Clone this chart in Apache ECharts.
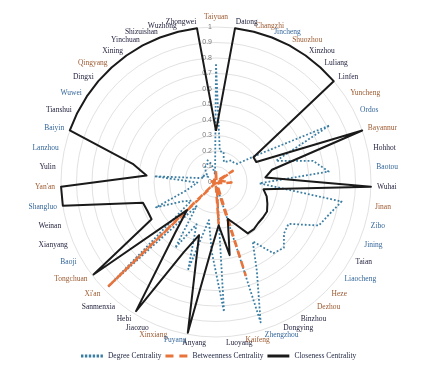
<!DOCTYPE html>
<html><head><meta charset="utf-8">
<script src="https://cdn.jsdelivr.net/npm/echarts@6/dist/echarts.min.js"></script>
<style>html,body{margin:0;padding:0;background:#fff}#c{width:428px;height:367px}</style>
</head><body><div id="c"></div>
<script>
// ---- data (clockwise from top) ----
const categories = ["Taiyuan","Datong","Changzhi","Jincheng","Shuozhou","Xinzhou","Luliang","Linfen","Yuncheng","Ordos",
  "Bayannur","Hohhot","Baotou","Wuhai","Jinan","Zibo","Jining","Taian","Liaocheng","Heze",
  "Dezhou","Binzhou","Dongying","Zhengzhou","Kaifeng","Luoyang","Anyang","Puyang","Xinxiang","Jiaozuo",
  "Hebi","Sanmenxia","Xi'an","Tongchuan","Baoji","Xianyang","Weinan","Shangluo","Yan'an","Yulin",
  "Lanzhou","Baiyin","Tianshui","Wuwei","Dingxi","Qingyang","Xining","Yinchuan","Shizuishan","Wuzhong","Zhongwei"];
const degree = [0.76,0.20,0.20,0.14,0.15,0.17,0.17,0.18,0.31,0.82,
  0.41,0.64,0.73,0.28,0.82,0.76,0.72,0.54,0.55,0.61,
  0.59,0.45,0.63,0.95,0.03,0.84,0.45,0.25,0.59,0.30,
  0.50,0.20,0.97,0.20,0.25,0.42,0.20,0.15,0.12,0.40,
  0.12,0.08,0.10,0.06,0.08,0.10,0.12,0.12,0.15,0.12,0.05];
const betweenness = [0.07,0.02,0.01,0.01,0.01,0.01,0.01,0.02,0.13,0.03,
  0.02,0.04,0.05,0.10,0.05,0.02,0.02,0.02,0.01,0.01,
  0.01,0.01,0.02,0.63,0.03,0.27,0.02,0.01,0.02,0.01,
  0.01,0.02,0.97,0.01,0.01,0.02,0.01,0.01,0.02,0.04,
  0.02,0.01,0.01,0.01,0.01,0.01,0.02,0.02,0.01,0.01,0.01];
const closeness = [0.33,1,1,1,1,1,1,1,0.29,0.29,
  1,0.37,0.32,1,0.31,0.34,0.36,0.38,0.38,0.38,
  0.39,0.39,0.30,0.25,0.48,0.28,0.42,0.99,0.36,0.50,
  0.98,0.42,0.26,0.99,0.48,0.48,0.49,1,1,0.45,
  0.55,1,1,1,1,1,1,1,1,1,1];
const seriesNames = ["Degree Centrality","Betweenness Centrality","Closeness Centrality"];

// ---- styles ----
const O = '#9c5a30', B = '#35679a', K = '#1d1d3a';
const labelColors = [O,K,O,B,O,K,K,K,O,B,
  O,K,B,K,O,B,B,K,B,O,
  O,K,K,B,O,K,K,B,O,K,
  K,K,O,O,B,K,K,B,O,K,
  B,B,K,B,K,O,K,K,K,K,K];

// ECharts radar runs counter-clockwise; reorder so the picture runs clockwise
const order = [0].concat(categories.map((_, i) => i).slice(1).reverse());
const indicator = order.map(i => ({ name: categories[i], min: 0, max: 1, color: labelColors[i] }));
indicator[0].axisLabel = { show: true };

const chart = echarts.init(document.getElementById('c'), null, { renderer: 'canvas' });
chart.setOption({
  backgroundColor: '#fff',
  animation: false,
  legend: {
    left: 76, top: 347, itemGap: 4, itemWidth: 22, itemHeight: 3,
    textStyle: { fontFamily: 'Liberation Serif', fontSize: 7.5, color: '#1c2340' },
    data: [
      { name: seriesNames[0], icon: 'path://M0,0h2.4v3h-2.4zM3.9,0h2.4v3h-2.4zM7.8,0h2.4v3h-2.4zM11.7,0h2.4v3h-2.4zM15.6,0h2.4v3h-2.4zM19.5,0h2.4v3h-2.4z' },
      { name: seriesNames[1], icon: 'path://M0,0h8v3h-8zM13.9,0h8v3h-8z' },
      { name: seriesNames[2], icon: 'path://M0,0h21.9v3h-21.9z' }
    ]
  },
  radar: {
    center: [216, 182],
    radius: 155,
    startAngle: 90,
    shape: 'circle',
    splitNumber: 10,
    indicator: indicator,
    axisNameGap: 6,
    axisName: { fontFamily: 'Liberation Serif', fontSize: 7.5, color: K },
    axisLine: { show: false },
    axisTick: { show: false },
    axisLabel: { show: false, fontFamily: 'Liberation Sans', fontSize: 7, color: '#7a7a7a', margin: 4 },
    splitLine: { lineStyle: { color: '#d9d9d9', width: 0.8 } },
    splitArea: { show: false }
  },
  series: [{
    type: 'radar',
    symbol: 'none',
    data: [
      { name: seriesNames[0], value: order.map(i => degree[i]),
        itemStyle: { color: '#3a7da3' }, lineStyle: { color: '#3a7da3', width: 1.8, type: [1.8, 2] } },
      { name: seriesNames[1], value: order.map(i => betweenness[i]),
        itemStyle: { color: '#e8743b' }, lineStyle: { color: '#e8743b', width: 2.5, type: [7, 4] } },
      { name: seriesNames[2], value: order.map(i => closeness[i]),
        itemStyle: { color: '#1a1a1a' }, lineStyle: { color: '#1a1a1a', width: 2 } }
    ]
  }]
});
</script></body></html>
